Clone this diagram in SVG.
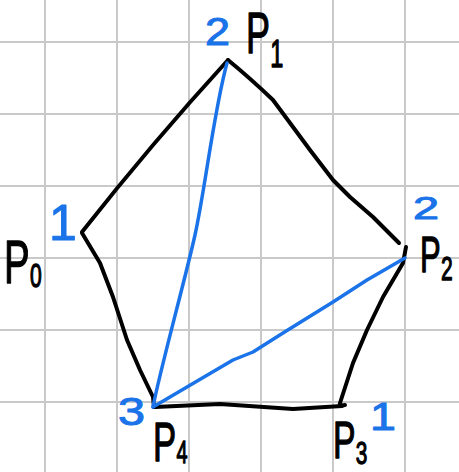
<svg xmlns="http://www.w3.org/2000/svg" width="459" height="472" viewBox="0 0 459 472">
<style>
.grid line{stroke:#c9c9c9;stroke-width:2}
.edge{fill:none;stroke:#000;stroke-width:4;stroke-linecap:round;stroke-linejoin:round}
.diag{fill:none;stroke:#1a73e8;stroke-width:3.5;stroke-linecap:round;stroke-linejoin:round}
.lbl{font-family:"Liberation Sans",Arial,sans-serif;fill:#000;stroke:#000;stroke-width:1.3;stroke-linejoin:round}
.num{font-family:"Liberation Sans",Arial,sans-serif;fill:#1a73e8;stroke:#1a73e8;stroke-width:1;stroke-linejoin:round}
</style>
<rect width="459" height="472" fill="#fff"/>
<g class="grid">
<line x1="45" y1="0" x2="45" y2="472"/>
<line x1="117" y1="0" x2="117" y2="472"/>
<line x1="189" y1="0" x2="189" y2="472"/>
<line x1="261" y1="0" x2="261" y2="472"/>
<line x1="333" y1="0" x2="333" y2="472"/>
<line x1="405" y1="0" x2="405" y2="472"/>
<line x1="0" y1="42" x2="459" y2="42"/>
<line x1="0" y1="114" x2="459" y2="114"/>
<line x1="0" y1="186" x2="459" y2="186"/>
<line x1="0" y1="258" x2="459" y2="258"/>
<line x1="0" y1="330" x2="459" y2="330"/>
<line x1="0" y1="402" x2="459" y2="402"/>
</g>
<g id="connectors">
<path class="edge" d="M228,60 Q152,143 82,232"/>
<path class="edge" d="M228,60 Q250,78 273,100 L310,150 L333,180 L350,197 L373,217 L399,243"/>
<path class="edge" d="M82,233 L100,263 L113,297 L127,340 L140,370 L153,397 L154,407"/>
<path class="edge" d="M155,407 L220,404 L293,409 L342,406"/>
<path class="edge" d="M406,247 L403,263 L383,297 L367,330 L353,363 L340,403 Q339,406 345,405"/>
<path class="diag" d="M227,63 C214,110 205,190 195,235 S160,370 153,407"/>
<path class="diag" d="M153,407 L187,387 L233,360 L253,352 L283,333 L333,302 L367,280 L405,258"/>
</g>
<g id="P0">
<text class="lbl" transform="translate(4,283) scale(0.62,1)" font-size="62">P<tspan x="42" y="4" font-size="34">0</tspan></text>
<text class="num" x="49" y="240" font-size="50">1</text>
</g>
<g id="P1">
<text class="lbl" transform="translate(246,53) scale(0.62,1)" font-size="58">P<tspan x="39" y="14" font-size="38">1</tspan></text>
<text class="num" x="205" y="45" font-size="38" textLength="25" lengthAdjust="spacingAndGlyphs">2</text>
</g>
<g id="P2">
<text class="lbl" transform="translate(420,272) scale(0.62,1)" font-size="50">P<tspan x="34" y="8" font-size="34">2</tspan></text>
<text class="num" x="413" y="219" font-size="31" textLength="26" lengthAdjust="spacingAndGlyphs">2</text>
</g>
<g id="P3">
<text class="lbl" transform="translate(333,458) scale(0.65,1)" font-size="52">P<tspan x="35" y="6" font-size="32">3</tspan></text>
<text class="num" x="370" y="430" font-size="39" textLength="26" lengthAdjust="spacingAndGlyphs">1</text>
</g>
<g id="P4">
<text class="lbl" transform="translate(153,461) scale(0.62,1)" font-size="56">P<tspan x="38" y="2" font-size="32">4</tspan></text>
<text class="num" x="118" y="425" font-size="38" textLength="27" lengthAdjust="spacingAndGlyphs">3</text>
</g>
</svg>
